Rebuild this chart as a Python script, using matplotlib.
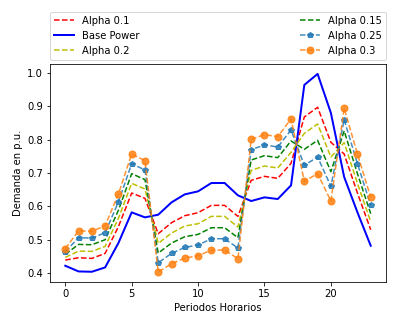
import matplotlib
matplotlib.use("Agg")
import matplotlib.pyplot as plt

hours = list(range(24))

base_power = [0.422, 0.405, 0.404, 0.417, 0.490, 0.582, 0.567, 0.575, 0.612, 0.636,
              0.645, 0.670, 0.670, 0.633, 0.616, 0.627, 0.622, 0.663, 0.964, 0.997,
              0.880, 0.688, 0.582, 0.482]

alpha_01 = [0.439, 0.446, 0.444, 0.459, 0.539, 0.640, 0.624, 0.518, 0.551, 0.572,
            0.581, 0.603, 0.603, 0.570, 0.678, 0.690, 0.684, 0.729, 0.868, 0.897,
            0.792, 0.757, 0.640, 0.530]

alpha_02 = [0.447, 0.466, 0.465, 0.480, 0.564, 0.669, 0.652, 0.489, 0.520, 0.541,
            0.548, 0.570, 0.570, 0.538, 0.708, 0.721, 0.715, 0.762, 0.819, 0.847,
            0.748, 0.791, 0.669, 0.554]

alpha_015 = [0.456, 0.486, 0.485, 0.500, 0.588, 0.698, 0.680, 0.460, 0.490, 0.509,
             0.516, 0.536, 0.536, 0.506, 0.739, 0.752, 0.746, 0.796, 0.771, 0.798,
             0.704, 0.826, 0.698, 0.578]

alpha_025 = [0.464, 0.506, 0.505, 0.521, 0.613, 0.728, 0.709, 0.431, 0.459, 0.477,
             0.484, 0.503, 0.503, 0.475, 0.770, 0.784, 0.778, 0.829, 0.723, 0.748,
             0.660, 0.860, 0.728, 0.603]

alpha_03 = [0.473, 0.527, 0.525, 0.542, 0.637, 0.757, 0.737, 0.403, 0.428, 0.445,
            0.452, 0.469, 0.469, 0.443, 0.801, 0.815, 0.809, 0.862, 0.675, 0.698,
            0.616, 0.894, 0.757, 0.627]

fig = plt.figure(figsize=(398 / 72, 325 / 72), dpi=72)
ax = fig.add_axes([50 / 398, 1 - 282 / 325, 336 / 398, 218 / 325])

ax.plot(hours, alpha_01, 'r--', lw=1.5, label='Alpha 0.1')
ax.plot(hours, base_power, 'b-', lw=2, label='Base Power')
ax.plot(hours, alpha_02, 'y--', lw=1.5, label='Alpha 0.2')
ax.plot(hours, alpha_015, 'g--', lw=1.5, label='Alpha 0.15')
ax.plot(hours, alpha_025, '--', color='#1f77b4', marker='p', markersize=6,
        lw=1.5, alpha=0.85, label='Alpha 0.25')
ax.plot(hours, alpha_03, '--', color='#ff7f0e', marker='o', markersize=7,
        lw=1.5, alpha=0.85, label='Alpha 0.3')

ax.set_xlabel('Periodos Horarios')
ax.set_ylabel('Demanda en p.u.')
ax.set_xticks([0, 5, 10, 15, 20])
ax.set_yticks([0.4, 0.5, 0.6, 0.7, 0.8, 0.9, 1.0])

ax.legend(bbox_to_anchor=(0, 1.02, 1, 0.2), loc='lower left', mode='expand',
          ncol=2, borderaxespad=0)

fig.savefig('out.png', dpi=72)
